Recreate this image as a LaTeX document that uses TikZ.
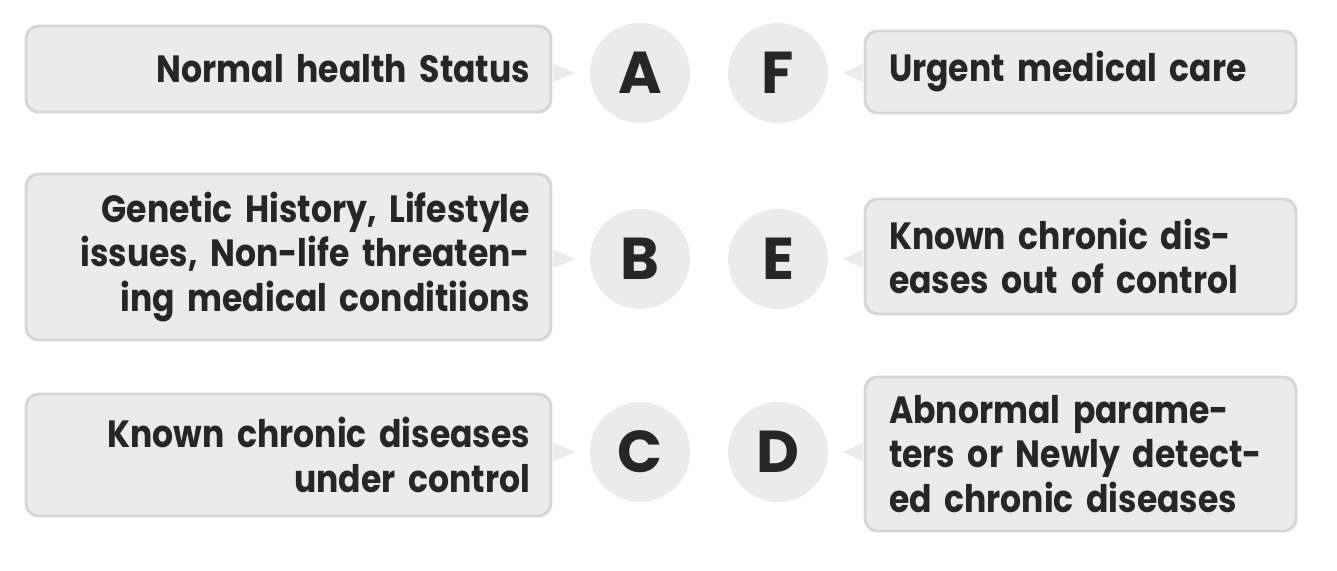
\documentclass[tikz,border=0pt]{standalone}
\usepackage{fontspec}
\setmainfont{Poppins}
\newfontfamily\boxfont[FakeStretch=0.87]{Poppins}
\usepackage{xcolor}
\usetikzlibrary{positioning, calc}

\definecolor{boxfill}{HTML}{EBEBEB}
\definecolor{boxline}{HTML}{D6D6D6}
\definecolor{ink}{HTML}{262626}
\hyphenpenalty=10000

\begin{document}
\begin{tikzpicture}[
        x=0.025cm, y=-0.025cm,
        box/.style={draw=boxline, fill=boxfill, line width=2.1pt,
            rounded corners=9pt, inner sep=0pt, text=ink,
            font=\boxfont\bfseries\fontsize{27}{31.7}\selectfont},
        lbox/.style={box, minimum width=525*0.025cm, text width=483*0.025cm, align=right},
        rbox/.style={box, minimum width=431*0.025cm, text width=383*0.025cm, align=left},
        letter/.style={circle, fill=boxfill, minimum size=2.5cm, inner sep=0pt,
            text=ink, font=\bfseries\fontsize{42}{42}\selectfont},
        pointer/.style={fill=boxfill}
    ]
        \useasboundingbox (0,0) rectangle (1337,571);

        % letters
        \node[letter] (A) at (640,73) {A};
        \node[letter] (B) at (640,259) {B};
        \node[letter] (C) at (640,452) {C};
        \node[letter] (F) at (778,73) {F};
        \node[letter] (E) at (778,259) {E};
        \node[letter] (D) at (778,452) {D};

        % left boxes
        \node[lbox, minimum height=86*0.025cm] (bA) at (288.5,69) {Normal health Status};
        \node[lbox, minimum height=166*0.025cm] (bB) at (288.5,257)
            {Genetic History, Lifestyle\\issues, Non-life threaten-\\ing medical conditiions};
        \node[lbox, minimum height=122*0.025cm] (bC) at (288.5,455)
            {Known chronic diseases\\under control};

        % right boxes
        \node[rbox, minimum height=82*0.025cm] (bF) at (1080.5,72) {Urgent medical care};
        \node[rbox, minimum height=115*0.025cm] (bE) at (1080.5,256.5)
            {Known chronic dis-\\eases out of control};
        \node[rbox, minimum height=154*0.025cm] (bD) at (1080.5,454)
            {Abnormal parame-\\ters or Newly detect-\\ed chronic diseases};

        % pointers
        \foreach \b/\y in {bA/73, bB/259, bC/452} {
            \fill[pointer] ($(\b.east |- 0,\y)+(1,-9)$) -- (575,\y) -- ($(\b.east |- 0,\y)+(1,9)$) -- cycle;
        }
        \foreach \b/\y in {bF/73, bE/259, bD/452} {
            \fill[pointer] ($(\b.west |- 0,\y)+(-1,-9)$) -- (843,\y) -- ($(\b.west |- 0,\y)+(-1,9)$) -- cycle;
        }
    \end{tikzpicture}
\end{document}
